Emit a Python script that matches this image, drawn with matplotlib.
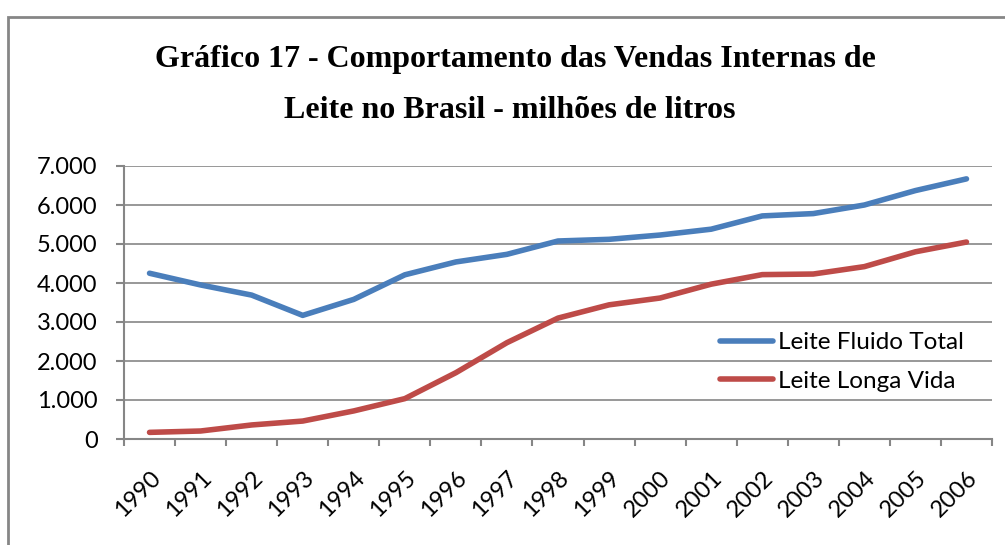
import matplotlib
matplotlib.use("Agg")
import matplotlib.pyplot as plt
from matplotlib.patches import Rectangle
from matplotlib.ticker import FuncFormatter, MultipleLocator

years = ["1990", "1991", "1992", "1993", "1994", "1995", "1996", "1997", "1998",
         "1999", "2000", "2001", "2002", "2003", "2004", "2005", "2006"]
fluido_total = [4250, 3950, 3690, 3170, 3580, 4210, 4540, 4735, 5077,
                5120, 5230, 5380, 5720, 5780, 6000, 6370, 6670]
longa_vida = [170, 205, 360, 460, 720, 1035, 1700, 2470, 3100,
              3440, 3615, 3970, 4215, 4230, 4420, 4800, 5050]
series_names = ["Leite Fluido Total", "Leite Longa Vida"]
title_lines = ["Gráfico 17 - Comportamento das Vendas Internas de",
               "Leite no Brasil - milhões de litros"]

W, H = 1005, 545
fig = plt.figure(figsize=(W / 100, H / 100), dpi=100)

def fx(px):
    return px / W

def fy(py):
    return 1 - py / H

# outer border
fig.patches.append(Rectangle((fx(8), fy(560)), fx(1010) - fx(8), fy(17) - fy(560),
                             transform=fig.transFigure, fill=False,
                             edgecolor="#868686", linewidth=2.0))

left, right, top, bottom = 124, 992, 166, 439
ax = fig.add_axes([fx(left), fy(bottom), fx(right) - fx(left), fy(top) - fy(bottom)])

x = list(range(len(years)))
l1, = ax.plot(x, fluido_total, color="#4A7EBB", linewidth=4, solid_capstyle="round",
              label=series_names[0])
l2, = ax.plot(x, longa_vida, color="#BE4B48", linewidth=4, solid_capstyle="round",
              label=series_names[1])

ax.set_xlim(-0.5, len(years) - 0.5)
ax.set_ylim(0, 7000)
ax.yaxis.set_major_locator(MultipleLocator(1000))
ax.yaxis.set_major_formatter(FuncFormatter(lambda v, p: f"{int(v):,}".replace(",", ".")))
ax.grid(axis="y", color="#868686", linewidth=1.2)
ax.set_axisbelow(True)

for s in ["top", "right"]:
    ax.spines[s].set_visible(False)
for s in ["left", "bottom"]:
    ax.spines[s].set_color("#868686")
    ax.spines[s].set_linewidth(1.5)

ax.set_xticks([i - 0.5 for i in range(len(years) + 1)], minor=False)
ax.set_xticklabels([])
ax.tick_params(axis="x", which="major", length=5, color="#868686", width=1.5)
ax.set_xticks(x, minor=True)
ax.set_xticklabels(years, minor=True, rotation=45, ha="right", va="top",
                   rotation_mode="anchor", fontsize=17, family="Lato")
ax.tick_params(axis="x", which="minor", length=0, pad=20)
ax.tick_params(axis="y", length=6, color="#868686", width=1.5, labelsize=17, pad=13)
for lab in ax.get_yticklabels():
    lab.set_family("Lato")

fig.legend(handles=[l1, l2], loc="center left",
           bbox_to_anchor=(fx(720), fy(362)),
           frameon=False, prop={"family": "Lato", "size": 17.5},
           handlelength=2.2, handletextpad=0.2, labelspacing=0.72,
           borderpad=0, borderaxespad=0)

fig.text(fx(515), fy(67), title_lines[0], ha="center", va="baseline",
         family="Liberation Serif", weight="bold", fontsize=23)
fig.text(fx(510), fy(118), title_lines[1], ha="center", va="baseline",
         family="Liberation Serif", weight="bold", fontsize=23)

fig.savefig("out.png", dpi=100)
